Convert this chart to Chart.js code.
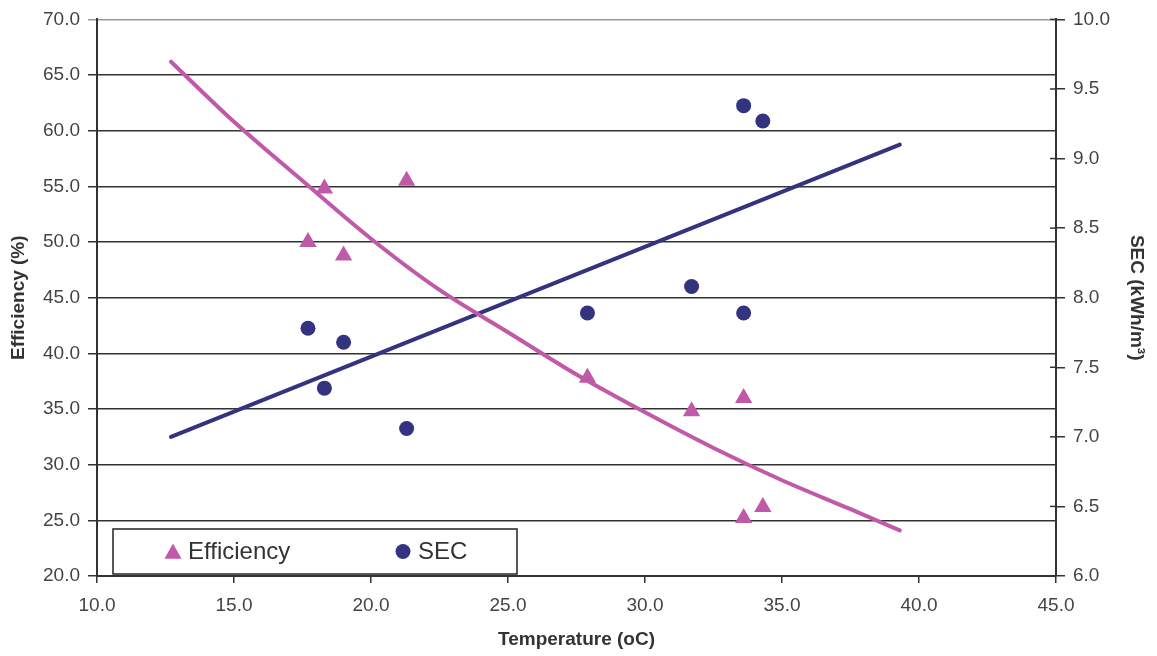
<!DOCTYPE html>
<html>
<head>
<meta charset="utf-8">
<script src="https://cdn.jsdelivr.net/npm/chart.js@4.4.1/dist/chart.umd.min.js"></script>
<style>
html, body { margin: 0; padding: 0; background: #fff; }
#wrap { width: 1157px; height: 656px; }
</style>
</head>
<body>
<div id="wrap"><canvas id="grafico" width="1157" height="656"></canvas></div>
<script>
// Dados
const temperatura = [17.7, 18.3, 19.0, 21.3, 27.9, 31.7, 33.6, 33.6, 34.3];
const eficiencia = [50.0, 54.8, 48.8, 55.5, 37.8, 34.8, 36.0, 25.2, 26.2];
const temperaturaSec = [17.7, 18.3, 19.0, 21.3, 27.9, 31.7, 33.6, 33.6, 34.3];
const sec = [7.78, 7.35, 7.68, 7.06, 7.89, 8.08, 7.89, 9.38, 9.27];

// Linhas de tendência
const tendEficX = [12.7, 15.0, 17.5, 20.0, 22.5, 25.0, 27.5, 30.0, 32.5, 35.0, 37.5, 39.3];
const tendEficY = [66.2, 60.8, 55.5, 50.3, 45.7, 41.9, 38.1, 34.7, 31.5, 28.6, 26.0, 24.1];
const tendSecX = [12.7, 39.3];
const tendSecY = [7.0, 9.1];

// Eixos
const eixoX = [10, 15, 20, 25, 30, 35, 40, 45];
const eixoEsq = [20, 25, 30, 35, 40, 45, 50, 55, 60, 65, 70];
const eixoDir = [6.0, 6.5, 7.0, 7.5, 8.0, 8.5, 9.0, 9.5, 10.0];

const rosa = '#c05aa8';
const azul = '#33337f';
const fonte = '"Liberation Sans", Arial, sans-serif';

function pares(xs, ys) {
    return xs.map((x, i) => ({ x: x, y: ys[i] }));
}

function triangulo(ctx, x, y, r) {
    ctx.beginPath();
    ctx.moveTo(x, y - r);
    ctx.lineTo(x + r * 0.95, y + r * 0.7);
    ctx.lineTo(x - r * 0.95, y + r * 0.7);
    ctx.closePath();
    ctx.fill();
}

// legenda em caixa dentro da área do gráfico + marcas internas do eixo direito
const legendaCaixa = {
    id: 'legendaCaixa',
    afterDraw(chart) {
        const ctx = chart.ctx;
        const area = chart.chartArea;
        ctx.save();

        const y2 = chart.scales.y2;
        ctx.strokeStyle = '#333';
        ctx.lineWidth = 1.5;
        y2.ticks.forEach(t => {
            const py = y2.getPixelForValue(t.value);
            ctx.beginPath();
            ctx.moveTo(area.right - 6, py);
            ctx.lineTo(area.right, py);
            ctx.stroke();
        });

        const bx = area.left + 16, by = area.bottom - 47, bw = 404, bh = 45;
        ctx.fillStyle = '#fff';
        ctx.fillRect(bx, by, bw, bh);
        ctx.strokeStyle = '#222';
        ctx.lineWidth = 1.5;
        ctx.strokeRect(bx, by, bw, bh);

        const cy = by + bh / 2;
        ctx.fillStyle = rosa;
        triangulo(ctx, bx + 60, cy + 1, 9);
        ctx.fillStyle = azul;
        ctx.beginPath();
        ctx.arc(bx + 290, cy, 7.5, 0, Math.PI * 2);
        ctx.fill();

        ctx.fillStyle = '#333';
        ctx.font = '24px ' + fonte;
        ctx.textBaseline = 'middle';
        ctx.fillText(chart.data.datasets[0].label, bx + 75, cy + 1);
        ctx.fillText(chart.data.datasets[1].label, bx + 305, cy + 1);
        ctx.restore();
    }
};

new Chart(document.getElementById('grafico'), {
    type: 'scatter',
    data: {
        datasets: [{
            label: 'Efficiency',
            data: pares(temperatura, eficiencia),
            yAxisID: 'y',
            backgroundColor: rosa,
            borderColor: rosa,
            pointStyle: 'triangle',
            pointRadius: 10,
            borderWidth: 0,
            order: 2
        }, {
            label: 'SEC',
            data: pares(temperaturaSec, sec),
            yAxisID: 'y2',
            backgroundColor: azul,
            borderColor: azul,
            pointStyle: 'circle',
            pointRadius: 7.5,
            borderWidth: 0,
            order: 2
        }, {
            label: 'Tendência Efficiency',
            data: pares(tendEficX, tendEficY),
            yAxisID: 'y',
            showLine: true,
            borderColor: rosa,
            borderWidth: 4,
            pointRadius: 0,
            cubicInterpolationMode: 'monotone',
            borderCapStyle: 'round',
            order: 1
        }, {
            label: 'Tendência SEC',
            data: pares(tendSecX, tendSecY),
            yAxisID: 'y2',
            showLine: true,
            borderColor: azul,
            borderWidth: 4,
            pointRadius: 0,
            borderCapStyle: 'round',
            order: 1
        }]
    },
    options: {
        responsive: false,
        animation: false,
        devicePixelRatio: 1,
        layout: { padding: { top: 19, right: 0, left: 0, bottom: 0 } },
        plugins: {
            legend: { display: false },
            tooltip: { enabled: false }
        },
        scales: {
            x: {
                type: 'linear',
                min: eixoX[0],
                max: eixoX[eixoX.length - 1],
                afterFit: s => { s.height = 80; },
                afterBuildTicks: s => { s.ticks = eixoX.map(v => ({ value: v })); },
                ticks: {
                    callback: v => v.toFixed(1),
                    color: '#444',
                    font: { family: fonte, size: 19 },
                    padding: 11
                },
                grid: { drawOnChartArea: false, tickLength: 7, color: '#333', lineWidth: 1.5 },
                border: { color: '#333', width: 2 },
                title: {
                    display: true,
                    text: 'Temperature (oC)',
                    color: '#333',
                    font: { family: fonte, size: 19, weight: 'bold' },
                    padding: { top: 0, bottom: 5 }
                }
            },
            y: {
                position: 'left',
                min: eixoEsq[0],
                max: eixoEsq[eixoEsq.length - 1],
                afterFit: s => { s.width = 97; },
                afterBuildTicks: s => { s.ticks = eixoEsq.map(v => ({ value: v })); },
                ticks: {
                    callback: v => v.toFixed(1),
                    color: '#444',
                    font: { family: fonte, size: 19 },
                    padding: 8
                },
                grid: {
                    color: c => (c.tick && c.tick.value === 70) ? '#999' : '#333',
                    lineWidth: 1.5,
                    tickLength: 9
                },
                border: { color: '#333', width: 2 },
                title: {
                    display: true,
                    text: 'Efficiency (%)',
                    color: '#333',
                    font: { family: fonte, size: 19, weight: 'bold' },
                    padding: { top: 7, bottom: 0 }
                }
            },
            y2: {
                position: 'right',
                min: eixoDir[0],
                max: eixoDir[eixoDir.length - 1],
                afterFit: s => { s.width = 101; },
                afterBuildTicks: s => { s.ticks = eixoDir.map(v => ({ value: v })); },
                ticks: {
                    callback: v => v.toFixed(1),
                    color: '#444',
                    font: { family: fonte, size: 19 },
                    padding: 8
                },
                grid: { drawOnChartArea: false, tickLength: 9, color: '#333', lineWidth: 1.5 },
                border: { color: '#333', width: 2 },
                title: {
                    display: true,
                    text: 'SEC (kWh/m³)',
                    color: '#333',
                    font: { family: fonte, size: 19, weight: 'bold' },
                    padding: { top: 9, bottom: 0 }
                }
            }
        }
    },
    plugins: [legendaCaixa]
});
</script>
</body>
</html>
